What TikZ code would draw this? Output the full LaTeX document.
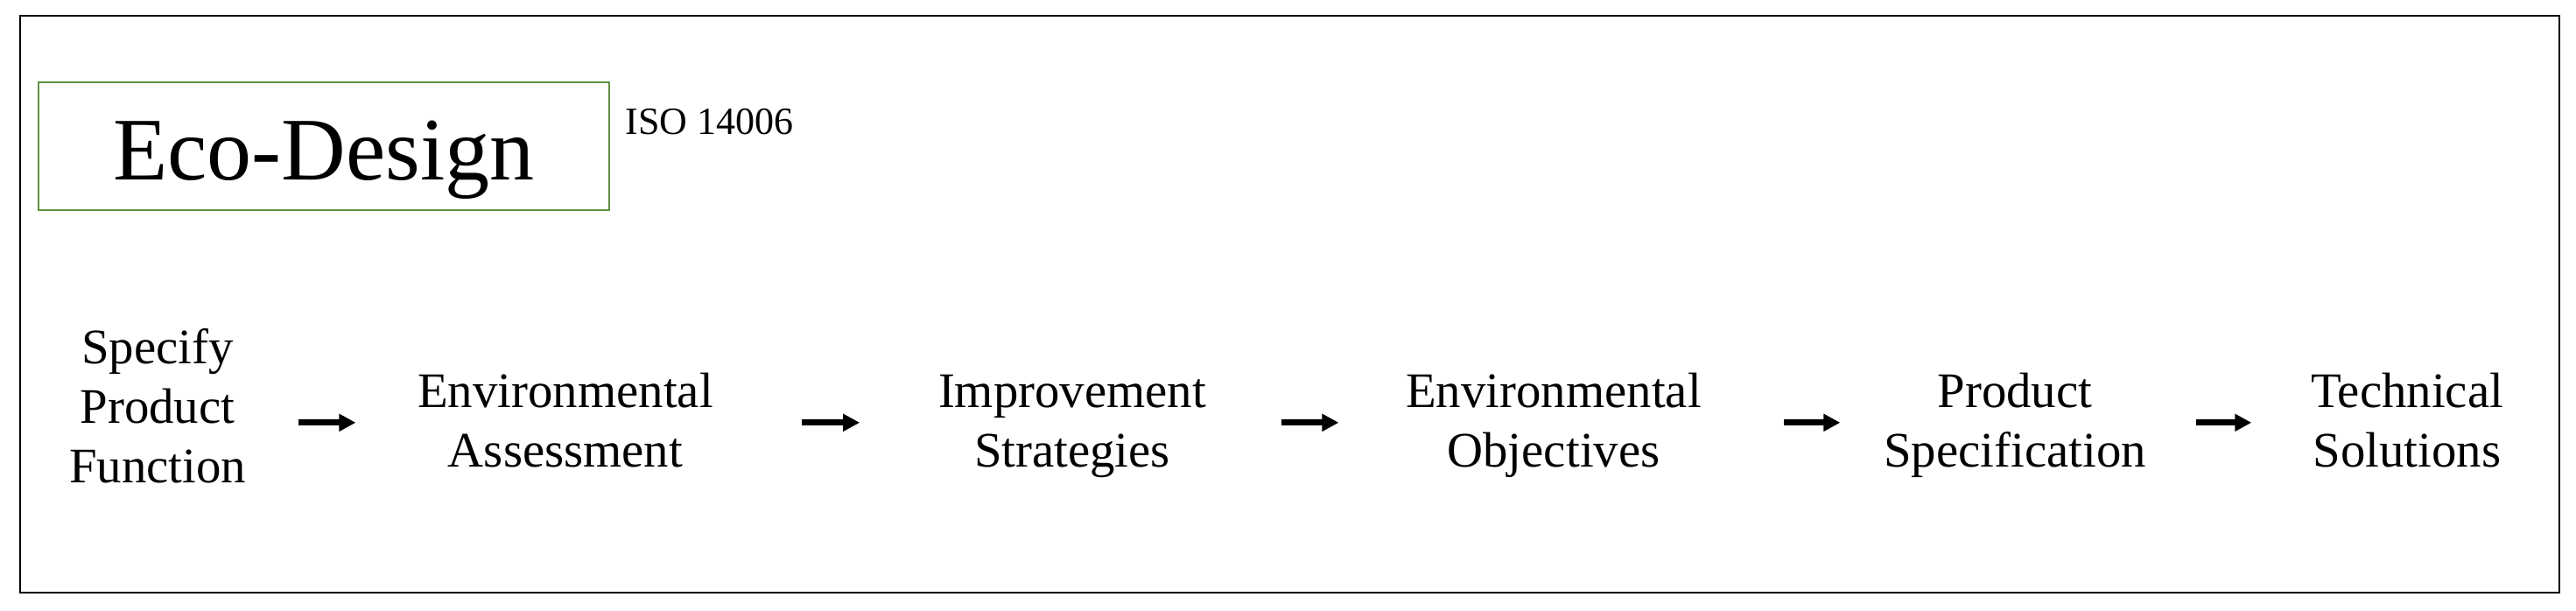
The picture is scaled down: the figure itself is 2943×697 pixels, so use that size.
\documentclass[tikz,border=0pt]{standalone}
\usepackage{fontspec}
\setmainfont{Liberation Serif}
\usetikzlibrary{arrows.meta}
\definecolor{ecogreen}{HTML}{5F9140}
\begin{document}
\begin{tikzpicture}[x=0.25pt,y=-0.25pt,
  stagebox/.style={font=\fontsize{14.2pt}{17pt}\selectfont, align=center, inner sep=0pt, anchor=north},
  arr/.style={line width=1.75pt, -{Triangle[length=4.75pt,width=4.75pt]}},
  frame/.style={draw=black, line width=0.6pt}]
\useasboundingbox (0,0) rectangle (2943,697);
\draw[frame] (23,18) rectangle (2924,677);
\node[draw=ecogreen, line width=0.5pt, minimum width=163pt, minimum height=36.5pt, inner sep=0pt,
      font=\fontsize{25.5pt}{30pt}\selectfont, text height=19pt, text depth=0pt] (eco) at (370,167) {Eco-Design};
\node[font=\fontsize{11pt}{13pt}\selectfont, inner sep=0pt, anchor=base west] (iso) at (714,153) {ISO 14006};
\node[stagebox] (s1) at (180,367.4) {\strut Specify\\\strut Product\\\strut Function};
\node[stagebox] (s2) at (646,417.4) {\strut Environmental\\\strut Assessment};
\node[stagebox] (s3) at (1225,417.4) {\strut Improvement\\\strut Strategies};
\node[stagebox] (s4) at (1775,417.4) {\strut Environmental\\\strut Objectives};
\node[stagebox] (s5) at (2302,417.4) {\strut Product\\\strut Specification};
\node[stagebox] (s6) at (2750,417.4) {\strut Technical\\\strut Solutions};
\draw[arr, shorten <=14.75pt, shorten >=17.5pt] ([yshift=0.85pt]s2.west -| s1.east) -- ([yshift=0.85pt]s2.west);
\draw[arr, shorten <=25pt, shorten >=22.25pt] ([yshift=0.85pt]s2.east) -- ([yshift=0.85pt]s3.west);
\draw[arr, shorten <=21.25pt, shorten >=19pt] ([yshift=0.85pt]s3.east) -- ([yshift=0.85pt]s4.west);
\draw[arr, shorten <=23.25pt, shorten >=12.25pt] ([yshift=0.85pt]s4.east) -- ([yshift=0.85pt]s5.west);
\draw[arr, shorten <=14pt, shorten >=16.75pt] ([yshift=0.85pt]s5.east) -- ([yshift=0.85pt]s6.west);
\end{tikzpicture}
\end{document}
